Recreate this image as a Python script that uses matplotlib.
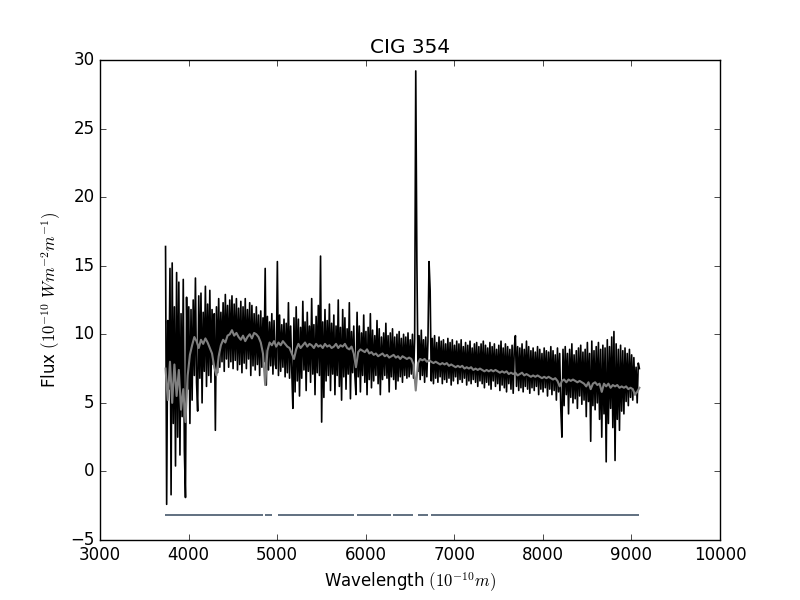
# Spectrum of CIG 354: observed flux, fitted model and masked regions

import numpy as np
import matplotlib
matplotlib.use("Agg")
import matplotlib.pyplot as plt

plt.style.use("classic")

# observed spectrum grid (Angstrom): first pixel and step
obs_start = 3740
obs_step = 12.5

# observed flux (10^-10 W m^-2 m^-1), one value per grid step
flux_obs = [
    16.4, -2.4, 11.0, 6.0, 14.8, -1.7, 15.2, 3.5, 12.0, 0.4,
    14.5, 2.5, 13.8, 1.2, 11.5, 4.0, 14.0, 1.5, -1.9, 12.7,
    6.0, 12.0, 3.5, 11.8, 5.2, 12.5, 7.0, 14.1, 6.5, 4.4,
    12.8, 6.8, 13.0, 5.0, 11.6, 7.3, 13.5, 6.2, 12.2, 7.0,
    13.2, 6.5, 11.8, 7.8, 11.5, 3.0, 12.0, 7.2, 12.6, 7.6,
    11.6, 8.0, 12.3, 7.3, 12.9, 8.2, 12.1, 7.6, 12.5, 8.0,
    12.8, 7.5, 12.2, 8.1, 12.6, 7.4, 11.9, 7.8, 12.4, 7.2,
    12.0, 7.9, 12.6, 7.5, 11.8, 8.2, 12.3, 7.0, 12.1, 7.7,
    11.5, 7.4, 12.0, 7.8, 11.4, 7.0, 11.7, 7.6, 11.2, 8.0,
    14.8, 6.3, 11.3, 7.4, 10.9, 7.7, 11.5, 7.1, 11.0, 7.8,
    7.5, 15.3, 7.0, 11.4, 7.3, 10.7, 7.6, 11.1, 6.9, 10.8,
    7.2, 12.3, 6.8, 10.6, 7.4, 4.6, 11.2, 5.8, 12.0, 6.6,
    11.1, 5.5, 10.5, 6.8, 12.4, 7.4, 10.9, 5.9, 11.6, 7.3,
    10.6, 6.5, 12.6, 7.1, 10.7, 5.6, 11.3, 7.2, 12.1, 7.0,
    15.7, 3.6, 10.9, 5.4, 11.8, 6.6, 11.0, 7.0, 12.2, 5.9,
    10.8, 7.1, 11.4, 5.6, 10.6, 7.0, 12.5, 6.2, 10.5, 5.2,
    11.8, 6.9, 11.2, 6.0, 10.4, 7.1, 12.3, 5.3, 10.2, 7.2,
    10.6, 7.0, 5.6, 11.6, 6.9, 10.6, 5.8, 10.1, 7.0, 11.4,
    6.5, 10.2, 5.6, 10.5, 6.7, 11.5, 6.1, 10.3, 6.6, 9.9,
    7.0, 11.0, 6.4, 10.4, 5.6, 9.8, 6.7, 10.1, 7.0, 10.8,
    6.8, 9.9, 5.8, 10.1, 6.9, 10.4, 6.7, 9.8, 6.0, 10.0,
    6.6, 10.2, 6.9, 9.7, 6.5, 10.0, 7.0, 9.8, 6.8, 10.1,
    6.9, 9.6, 7.1, 10.0, 6.8, 9.7, 29.2, 15.4, 7.3, 9.9,
    6.7, 10.3, 7.0, 9.6, 6.5, 9.8, 6.9, 9.5, 15.3, 13.2,
    6.6, 9.7, 6.4, 9.9, 6.8, 9.4, 6.5, 9.8, 6.9, 9.5,
    6.4, 9.6, 6.7, 9.3, 6.5, 9.7, 6.8, 9.4, 6.3, 9.6,
    6.6, 9.2, 6.9, 9.5, 6.4, 9.3, 6.7, 9.6, 6.5, 9.1,
    6.8, 9.4, 6.3, 9.2, 6.6, 9.5, 6.4, 9.0, 6.7, 9.3,
    6.5, 9.4, 6.2, 9.1, 6.6, 9.3, 6.4, 9.5, 6.1, 9.2,
    6.5, 9.0, 6.3, 9.4, 6.0, 9.1, 6.6, 9.3, 6.2, 8.9,
    6.4, 9.2, 5.9, 9.5, 6.3, 9.0, 6.1, 9.3, 5.8, 9.1,
    6.4, 8.9, 6.0, 9.2, 5.7, 9.0, 9.9, 6.2, 9.1, 5.9,
    9.0, 6.1, 9.3, 5.8, 8.9, 6.2, 9.5, 6.0, 9.1, 5.7,
    8.8, 6.1, 9.0, 5.9, 8.7, 6.2, 9.1, 5.6, 8.9, 6.0,
    8.6, 5.8, 9.0, 6.1, 8.8, 5.5, 8.7, 6.0, 9.1, 5.6,
    8.8, 5.9, 8.5, 5.2, 9.0, 5.8, 8.6, 4.6, 2.5, 8.9,
    4.8, 9.1, 5.6, 8.6, 4.2, 8.9, 5.4, 9.3, 5.0, 8.5,
    5.3, 8.8, 4.6, 9.0, 5.5, 9.2, 4.9, 8.7, 5.2, 8.9,
    4.0, 9.4, 5.1, 8.6, 2.2, 9.5, 4.8, 8.8, 4.5, 9.1,
    5.0, 9.4, 3.8, 8.9, 2.5, 9.2, 4.2, 9.0, 0.7, 9.6,
    3.5, 9.1, 4.6, 9.8, 3.2, 10.2, 0.8, 9.3, 3.8, 8.9,
    3.0, 9.2, 4.4, 8.8, 4.2, 9.0, 5.1, 8.6, 4.8, 8.9,
    5.4, 8.5, 5.2, 8.3, 5.6, 7.6, 5.0, 7.9, 7.5,
]

# synthetic (model) spectrum grid
model_start = 3740
model_step = 25

flux_model = [
    7.5, 5.2, 8.0, 5.0, 7.8, 5.5, 7.4, 4.5, 6.0, 3.6,
    7.0, 8.5, 9.2, 9.8, 9.5, 9.0, 9.6, 9.3, 9.7, 9.4,
    9.0, 8.6, 7.6, 7.0, 8.4, 9.2, 9.6, 9.4, 9.9, 10.0,
    10.3, 9.9, 10.1, 9.8, 9.6, 9.9, 9.5, 9.8, 10.0, 9.7,
    10.1, 10.0, 9.8, 9.4, 8.6, 6.3, 8.8, 9.4, 9.2, 9.5,
    9.1, 9.4, 9.2, 9.5, 9.3, 9.1, 9.0, 8.6, 8.2, 8.9,
    9.3, 9.0, 9.2, 9.4, 9.1, 9.3, 9.2, 9.0, 9.3, 9.1,
    9.2, 9.0, 9.3, 9.1, 9.2, 9.0, 9.1, 9.3, 9.0, 9.2,
    9.1, 9.3, 9.0, 8.9, 9.1, 8.6, 7.6, 8.7, 8.9, 8.8,
    8.7, 8.9, 8.6, 8.7, 8.5, 8.6, 8.4, 8.5, 8.6, 8.4,
    8.5, 8.3, 8.4, 8.5, 8.3, 8.4, 8.2, 8.4, 8.3, 8.2,
    8.3, 8.2, 7.8, 5.9, 7.9, 8.2, 8.1, 8.2, 8.0, 8.1,
    8.0, 7.9, 8.0, 7.9, 7.8, 7.9, 7.8, 7.9, 7.7, 7.8,
    7.7, 7.6, 7.7, 7.6, 7.7, 7.5, 7.6, 7.5, 7.6, 7.4,
    7.5, 7.4, 7.5, 7.4, 7.3, 7.4, 7.3, 7.4, 7.3, 7.4,
    7.3, 7.2, 7.3, 7.2, 7.3, 7.1, 7.2, 7.1, 7.2, 7.0,
    7.1, 7.2, 7.0, 7.1, 7.0, 6.9, 7.0, 6.9, 7.0, 6.9,
    6.8, 6.9, 6.8, 6.9, 6.8, 6.7, 6.8, 6.6, 6.2, 6.6,
    6.7, 6.5, 6.7, 6.6, 6.7, 6.6, 6.5, 6.6, 6.5, 6.4,
    6.2, 6.5, 6.0, 6.4, 6.5, 6.3, 6.4, 5.8, 6.4, 6.2,
    6.4, 6.1, 6.3, 6.2, 6.3, 6.1, 6.2, 6.1, 6.2, 6.0,
    6.1, 6.0, 5.6, 5.8, 6.1,
]

# wavelength ranges used in the fit (shown as segments below the spectrum)
mask_starts = [3734, 4863, 5010, 5902, 6308, 6590, 6737]
mask_ends = [4840, 4942, 5868, 6286, 6534, 6703, 9085]
mask_level = -3.2

wave_obs = obs_start + obs_step * np.arange(len(flux_obs))
wave_model = model_start + model_step * np.arange(len(flux_model))

fig = plt.figure(figsize=(8, 6), dpi=100)
ax = fig.add_subplot(111)

ax.plot(wave_obs, flux_obs, color="black", lw=1.2)
ax.plot(wave_model, flux_model, color="gray", lw=1.5)
ax.hlines([mask_level] * len(mask_starts), mask_starts, mask_ends,
          color="#607080", lw=1.4)

ax.set_xlim(3000, 10000)
ax.set_ylim(-5, 30)
ax.set_title("CIG 354")
ax.set_xlabel(r"Wavelength $(10^{-10}m)$")
ax.set_ylabel(r"Flux $(10^{-10}\ Wm^{-2}m^{-1})$")

fig.savefig("out.png", dpi=100)
